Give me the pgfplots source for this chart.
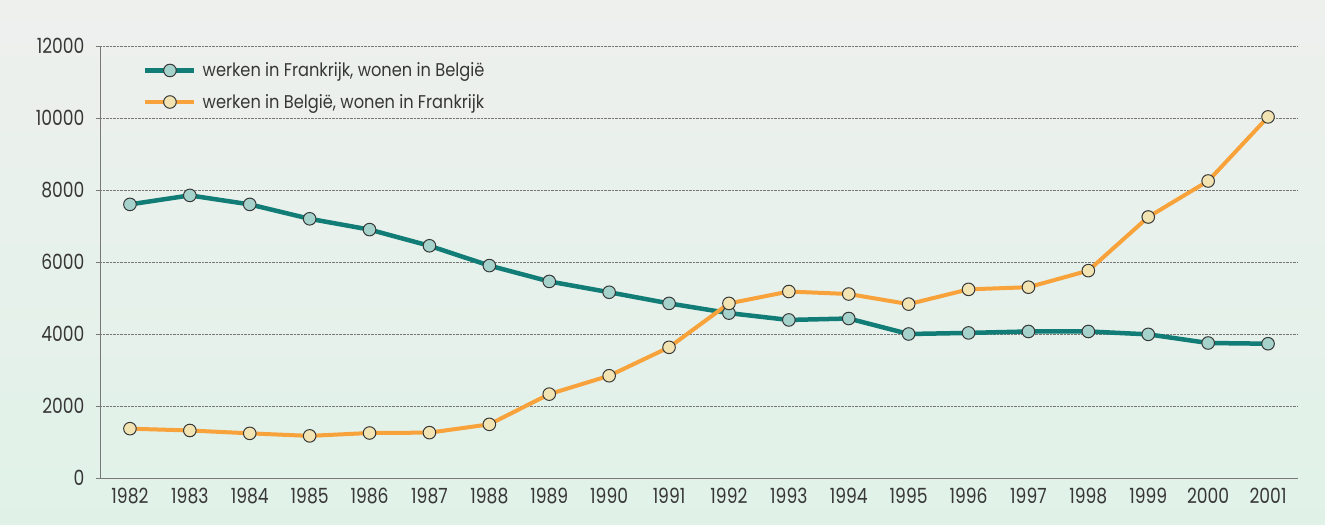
\documentclass[border=0pt]{standalone}
\usepackage{fontspec}
\setmainfont{Poppins}
\newfontfamily\tickfont[FakeStretch=0.82]{Poppins}
\newfontfamily\legfont[FakeStretch=0.88]{Poppins}
\usepackage{pgfplots}
\pgfplotsset{compat=1.18}
\definecolor{teal1}{RGB}{18,124,118}
\definecolor{tealfill}{RGB}{166,210,204}
\definecolor{orange1}{RGB}{247,162,58}
\definecolor{orangefill}{RGB}{242,228,178}
\definecolor{txt}{RGB}{55,55,55}
\definecolor{gridc}{RGB}{120,120,120}
\definecolor{bgtop}{RGB}{238,240,238}
\definecolor{bgbot}{RGB}{224,242,232}
\begin{document}
\begin{tikzpicture}
\shade[top color=bgtop, bottom color=bgbot] (-100bp,-47bp) rectangle (1225bp,478bp);
\begin{axis}[
  at={(0,0)}, anchor=south west,
  scale only axis, width=1198bp, height=432bp,
  xmin=-0.5, xmax=19.5, ymin=0, ymax=12000,
  axis lines=left, axis line style={-, draw=gridc, line width=0.8pt},
  xtick={0,...,19},
  xticklabels={1982,1983,1984,1985,1986,1987,1988,1989,1990,1991,1992,1993,1994,1995,1996,1997,1998,1999,2000,2001},
  xtick style={draw=none},
  minor xtick={-0.5,0.5,...,19.5},
  minor tick length=4bp,
  tick align=outside,
  ytick={0,2000,...,12000},
  major tick length=4bp,
  ytick style={draw=gridc, line width=0.6pt},
  minor tick style={draw=gridc, line width=0.6pt},
  ymajorgrids, major grid style={densely dotted, draw=gridc, line width=0.8pt},
  scaled y ticks=false,
  /pgf/number format/.cd, 1000 sep={}, assume math mode=true, /pgfplots/.cd,
  tick label style={font=\tickfont\fontsize{21}{24}\selectfont, text=txt},
  yticklabel style={xshift=-8bp},
  xticklabel style={yshift=-3bp},
  legend style={at={(0.0334,0.971)}, anchor=north west, draw=none, fill=none,
    font=\legfont\fontsize{18.5}{22}\selectfont, text=txt, row sep=12bp, column sep=4bp,
    nodes={inner sep=2bp}},
  legend cell align=left,
  legend image code/.code={\draw[#1, mark repeat=2, mark phase=2] plot coordinates {(0bp,0bp) (24.5bp,0bp) (49bp,0bp)};},
  clip=false,
]
\addplot[teal1, line width=4.5bp, mark=*, mark size=6.3bp,
  mark options={fill=tealfill, draw=txt, line width=1pt}] coordinates {
(0,7600) (1,7850) (2,7600) (3,7200) (4,6900) (5,6450) (6,5900) (7,5460) (8,5160) (9,4850)
(10,4580) (11,4390) (12,4430) (13,4000) (14,4030) (15,4070) (16,4070) (17,3990) (18,3750) (19,3730)};
\addlegendentry{werken in Frankrijk, wonen in België}
\addplot[orange1, line width=4bp, mark=*, mark size=6.3bp,
  mark options={fill=orangefill, draw=txt, line width=1pt}] coordinates {
(0,1370) (1,1320) (2,1240) (3,1170) (4,1250) (5,1260) (6,1490) (7,2330) (8,2840) (9,3630)
(10,4850) (11,5180) (12,5110) (13,4830) (14,5240) (15,5300) (16,5760) (17,7250) (18,8250) (19,10030)};
\addlegendentry{werken in België, wonen in Frankrijk}
\end{axis}
\pgfresetboundingbox
\useasboundingbox (-100bp,-47bp) rectangle (1225bp,478bp);
\end{tikzpicture}
\end{document}
